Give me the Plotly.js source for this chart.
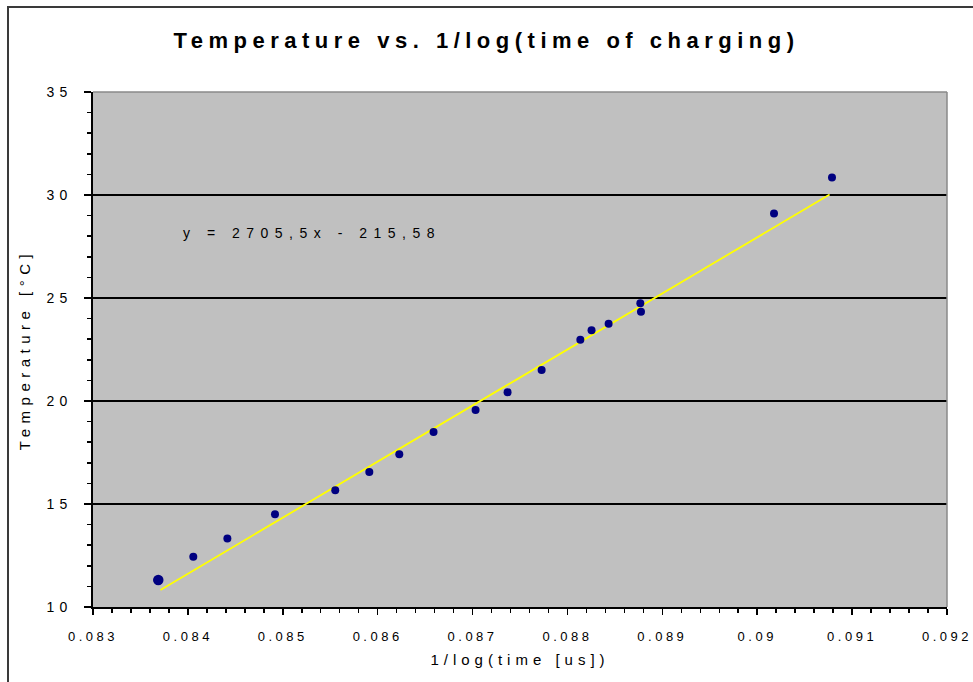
<!DOCTYPE html>
<html>
<head>
<meta charset="utf-8">
<script src="https://cdn.plot.ly/plotly-3.0.1.min.js"></script>
<style>
  html, body { margin: 0; padding: 0; background: #ffffff; }
  #wrap { position: relative; width: 973px; height: 682px; overflow: hidden; }
  #chart { width: 973px; height: 682px; }
  #frame { position: absolute; left: 7px; top: 6px; width: 1000px; height: 700px;
           border-left: 2px solid #3a3a3a; border-top: 2px solid #3a3a3a; pointer-events: none; }
  .xtick text { letter-spacing: 3.5px; }
  .ytick text { letter-spacing: 5px; }
  .gtitle { letter-spacing: 5.5px; }
  .xtitle { letter-spacing: 5px; }
  .ytitle { letter-spacing: 5.5px; }
  .annotation-text { letter-spacing: 6.5px; }
</style>
</head>
<body>
<div id="wrap">
  <div id="chart"></div>
  <div id="frame"></div>
</div>
<script>
// Measured points: x = 1/log(time [us]), y = temperature [°C]
const invLogTime = [0.083688, 0.084057, 0.084416, 0.084918, 0.085553, 0.085912, 0.086228,
                    0.086589, 0.087032, 0.087369, 0.087728, 0.088136, 0.088254, 0.088434,
                    0.088768, 0.088775, 0.090177, 0.090788];
const temperature = [11.31, 12.44, 13.32, 14.50, 15.67, 16.55, 17.42,
                     18.49, 19.56, 20.43, 21.50, 22.97, 23.44, 23.75,
                     24.74, 24.33, 29.10, 30.85];
// Linear trendline endpoints (as drawn)
const trendX = [0.083711, 0.090763];
const trendY = [10.83, 30.02];
const equationText = "y = 2705,5x - 215,58";
const chartTitle = "Temperature vs. 1/log(time of charging)";
const xTitle = "1/log(time [us])";
const yTitle = "Temperature [°C]";

const markerSizes = invLogTime.map((_, i) => (i === 0 ? 10.5 : 8));

const traces = [
  {
    x: trendX, y: trendY, type: 'scatter', mode: 'lines',
    line: { color: '#ffff00', width: 1.8 },
    hoverinfo: 'skip', showlegend: false
  },
  {
    x: invLogTime, y: temperature, type: 'scatter', mode: 'markers',
    marker: { color: '#000080', size: markerSizes, opacity: 1, line: { width: 0 } },
    showlegend: false
  }
];

const xTickFont = { family: 'Liberation Sans, Arial, sans-serif', size: 13, color: '#000000' };
const yTickFont = { family: 'Liberation Sans, Arial, sans-serif', size: 14, color: '#000000' };

const layout = {
  width: 973, height: 682,
  paper_bgcolor: '#ffffff',
  plot_bgcolor: '#c0c0c0',
  margin: { l: 93, r: 26, t: 92, b: 75, autoexpand: false },
  showlegend: false,
  title: {
    text: chartTitle,
    font: { family: 'Liberation Sans, Arial, sans-serif', size: 22, color: '#000000', weight: 'bold' },
    x: 0.5, xref: 'container', xanchor: 'center',
    y: 1 - 40 / 682, yref: 'container', yanchor: 'middle'
  },
  xaxis: {
    range: [0.083, 0.0920001], tick0: 0.083, dtick: 0.001,
    showgrid: false, zeroline: false,
    showline: true, linecolor: '#000000', linewidth: 2,
    ticks: 'outside', ticklen: 6, tickwidth: 1.5, tickcolor: '#000000',
    ticklabelstandoff: 10, ticklabeloverflow: 'allow',
    minor: { dtick: 0.0002, ticks: 'outside', ticklen: 4, tickwidth: 1.5, tickcolor: '#000000', showgrid: false },
    tickfont: xTickFont,
    title: { text: xTitle, font: { family: 'Liberation Sans, Arial, sans-serif', size: 15, color: '#000000' }, standoff: 12 },
    automargin: false, fixedrange: true
  },
  yaxis: {
    range: [10, 35], tick0: 10, dtick: 5,
    showgrid: true, gridcolor: '#000000', gridwidth: 1.5,
    zeroline: false,
    showline: true, linecolor: '#000000', linewidth: 2,
    ticks: 'outside', ticklen: 7, tickwidth: 1.5, tickcolor: '#000000',
    ticklabelstandoff: 9,
    minor: { dtick: 1, ticks: 'outside', ticklen: 4, tickwidth: 1.5, tickcolor: '#000000', showgrid: false },
    tickfont: yTickFont,
    title: { text: yTitle, font: { family: 'Liberation Sans, Arial, sans-serif', size: 15, color: '#000000' }, standoff: 12 },
    automargin: false, fixedrange: true
  },
  shapes: [
    { type: 'line', xref: 'paper', yref: 'paper', x0: 0, x1: 1, y0: 1, y1: 1,
      line: { color: '#8a8a8a', width: 1.5 }, layer: 'above' },
    { type: 'line', xref: 'paper', yref: 'paper', x0: 1, x1: 1, y0: 0, y1: 1,
      line: { color: '#8a8a8a', width: 1.5 }, layer: 'above' }
  ],
  annotations: [
    { text: equationText, xref: 'x', yref: 'y', x: 0.08393, y: 28.17,
      xanchor: 'left', yanchor: 'middle', showarrow: false,
      font: { family: 'Liberation Sans, Arial, sans-serif', size: 14, color: '#000000' } }
  ]
};

Plotly.newPlot('chart', traces, layout, { displayModeBar: false, staticPlot: true });
</script>
</body>
</html>
